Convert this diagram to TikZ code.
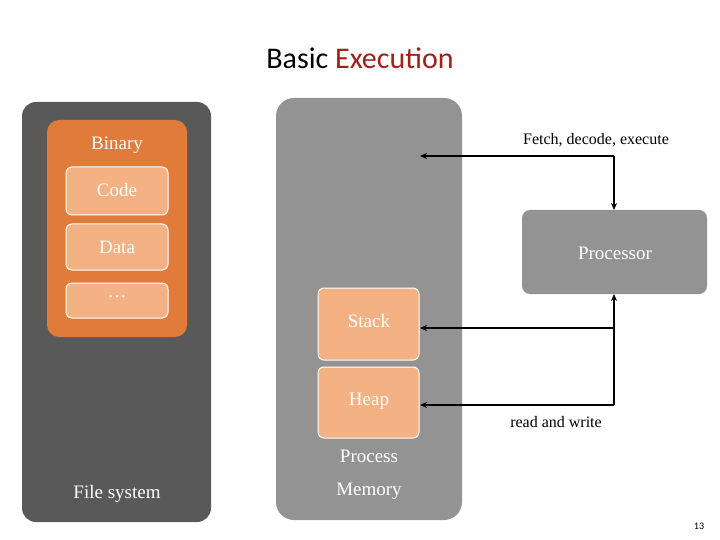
\documentclass[tikz,border=0pt]{standalone}
\usepackage{fontspec}
\setmainfont{Liberation Serif}
\newfontfamily\titlefont{Carlito}
\usetikzlibrary{arrows.meta}
\definecolor{dgray}{HTML}{595959}
\definecolor{mgray}{HTML}{939393}
\definecolor{orng}{HTML}{E07B39}
\definecolor{lorng}{HTML}{F4B183}
\definecolor{dred}{HTML}{A0201C}
\begin{document}
\begin{tikzpicture}[x=1pt,y=-1pt,
  box/.style={rounded corners=6pt,inner sep=0pt},
  item/.style={box,draw=white,line width=1pt,fill=lorng},
  lbl/.style={font=\fontsize{19}{22}\selectfont,text=white},
  arr/.style={-{Stealth[length=7pt,width=6pt]},line width=1.1pt}]
\useasboundingbox (0,0) rectangle (720,540);
\fill[white] (0,0) rectangle (720,540);
\node[font=\titlefont\fontsize{30}{34}\selectfont] (title) at (360,58) {Basic \textcolor{dred}{Execution}};
\fill[dgray,rounded corners=14pt] (22,102) rectangle (211,522);
\node[lbl] (fs) at (117,494) {File system};
\fill[orng,rounded corners=12pt] (47,120) rectangle (187,337);
\node[lbl] (bin) at (117,145) {Binary};
\draw[item] (66,167) rectangle (168,215); \node[lbl] (code) at (117,190) {Code};
\draw[item] (66,224) rectangle (168,270); \node[lbl] (data) at (117,247) {Data};
\draw[item] (66,283) rectangle (168,318); \node[lbl] (dots) at (117,297) {\ldots};
\fill[mgray,rounded corners=18pt] (276,98) rectangle (462,520);
\node[lbl,align=center,font=\fontsize{19}{33}\selectfont] (pm) at (369,475) {Process\\Memory};
\draw[item] (318,288) rectangle (419,360); \node[lbl,anchor=north] (stack) at (369,311) {Stack};
\draw[item] (318,367) rectangle (419,438); \node[lbl,anchor=north] (heap) at (369,390) {Heap};
\fill[mgray,rounded corners=8pt] (522,210) rectangle (707,294);
\node[lbl] (proc) at (615,253) {Processor};
\node[font=\fontsize{16}{19}\selectfont] (fetch) at (596,140) {Fetch, decode, execute};
\node[font=\fontsize{16}{19}\selectfont] (rw) at (556,422) {read and write};
\node[font=\titlefont\fontsize{10}{12}\selectfont] (pg) at (699,526) {13};
\coordinate (c1) at (614,156);
\coordinate (ftip) at (420,156);
\coordinate (ptop) at (614,210);
\coordinate (pbot) at (614,294);
\coordinate (c2) at (614,405);
\coordinate (c3) at (614,328);
\coordinate (stip) at (420,328);
\coordinate (htip) at (420,405);
\draw[arr] (c1) -- (ftip);
\draw[arr] (c1) -- (ptop);
\draw[arr] (c2) -- (pbot);
\draw[arr] (c2) -- (htip);
\draw[arr] (c3) -- (stip);
\end{tikzpicture}
\end{document}
